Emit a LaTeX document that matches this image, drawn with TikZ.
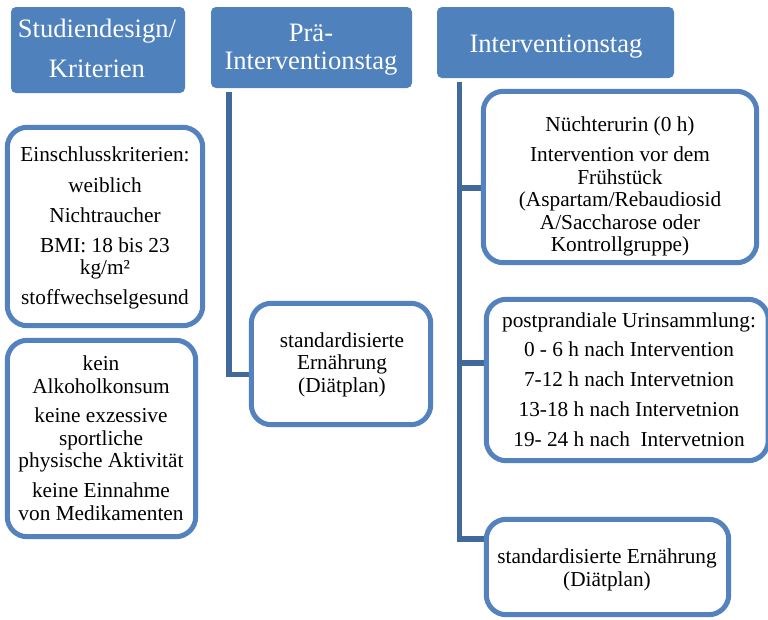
\documentclass[tikz,border=0pt]{standalone}
\usepackage{fontspec}
\setmainfont{Liberation Serif}
\definecolor{hdrblue}{HTML}{4F81BD}
\definecolor{boxblue}{HTML}{5382BE}
\definecolor{linkblue}{HTML}{41699B}
\begin{document}
\begin{tikzpicture}[x=1pt,y=-1pt,
  hdrbox/.style={rectangle, fill=hdrblue, rounded corners=5pt, inner sep=0pt},
  hdrtext/.style={inner sep=0pt, text=white, align=center, font=\fontsize{26.6}{28}\selectfont},
  itembox/.style={rectangle, inner sep=0pt},
  itemtext/.style={inner sep=0pt, text=black, align=center, font=\fontsize{21.3}{22.5}\selectfont},
  boxline/.style={draw=boxblue, fill=white, line width=5pt, rounded corners=20pt},
  link/.style={draw=linkblue, line width=5.5pt}]
\useasboundingbox (0,0) rectangle (768,619);
\fill[white] (0,0) rectangle (768,619);

% headers
\node[hdrbox, minimum width=174pt, minimum height=86pt] (h1) at (98,50) {};
\node[hdrbox, minimum width=201pt, minimum height=81pt] (h2) at (311.5,47.5) {};
\node[hdrbox, minimum width=237pt, minimum height=71pt] (h3) at (555.5,42.5) {};
\node[hdrtext] (th1) at (97,48.1) {Studiendesign/\\[12pt]Kriterien};
\node[hdrtext] (th2) at (311,49.9) {Prä-\\Interventionstag};
\node[hdrtext] (th3) at (556,46.3) {Interventionstag};

% boxes (geometry)
\node[itembox, minimum width=195pt, minimum height=198pt] (bA) at (105,226.5) {};
\node[itembox, minimum width=188pt, minimum height=196pt] (bB) at (101.5,438.5) {};
\node[itembox, minimum width=179pt, minimum height=121pt] (bC) at (341,364) {};
\node[itembox, minimum width=273pt, minimum height=171pt] (bD) at (620,177) {};
\node[itembox, minimum width=281.5pt, minimum height=161pt] (bE) at (627.25,380) {};
\node[itembox, minimum width=242pt, minimum height=95pt] (bF) at (607.5,567) {};

% connectors
\coordinate (c2t) at (229,92);
\coordinate (c2b) at (229,374.5);
\draw[link] (c2t) -- (c2b) -- (c2b -| bC.west);
\coordinate (c3t) at (459.5,82);
\coordinate (c3d) at (459.5,188);
\coordinate (c3e) at (459.5,363);
\coordinate (c3b) at (459.5,539);
\draw[link] (c3t) -- (c3b) -- (c3b -| bF.west);
\draw[link] (c3d) -- (c3d -| bD.west);
\draw[link] (c3e) -- (c3e -| bE.west);

% boxes (drawn)
\foreach \b in {bA,bB,bC,bD,bE,bF}{
  \draw[boxline] (\b.south west) rectangle (\b.north east);
}

% texts
\node[itemtext] (tA) at (105,228) {Einschlusskriterien:\\[8pt]weiblich\\[7.5pt]Nichtraucher\\[7.5pt]BMI: 18 bis 23\\kg/m²\\[7.5pt]stoffwechselgesund};
\node[itemtext] (tB) at (101,438.4) {kein\\Alkoholkonsum\\[7pt]keine exzessive\\sportliche\\physische Aktivität\\[7.5pt]keine Einnahme\\von Medikamenten};
\node[itemtext] (tC) at (342,364.8) {standardisierte\\Ernährung\\(Diätplan)};
\node[itemtext] (tD) at (620,186.6) {Nüchterurin (0 h)\\[7.5pt]Intervention vor dem\\Frühstück\\(Aspartam/Rebaudiosid\\A/Saccharose oder\\Kontrollgruppe)};
\node[itemtext] (tE) at (629,379.9) {postprandiale Urinsammlung:\\[7pt]0 - 6 h nach Intervention\\[7.5pt]7-12 h nach Intervetnion\\[7.5pt]13-18 h nach Intervetnion\\[7.5pt]19- 24 h nach\ \ Intervetnion};
\node[itemtext] (tF) at (607,569.7) {standardisierte Ernährung\\(Diätplan)};
\end{tikzpicture}
\end{document}
